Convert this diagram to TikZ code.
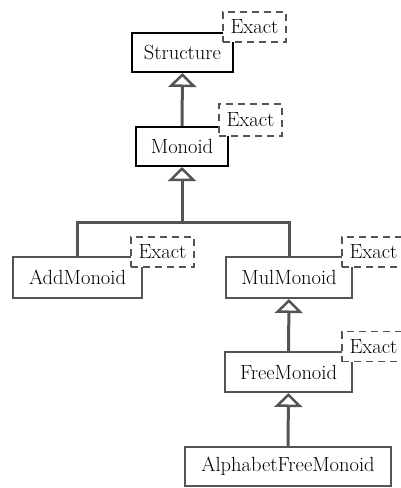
\documentclass[tikz,border=0pt]{standalone}
\usetikzlibrary{arrows.meta}
\begin{document}
\begin{tikzpicture}[x=1pt,y=-1pt,
  every node/.style={font=\fontsize{20.5}{24}\selectfont, inner sep=0pt},
  cls/.style={draw=black, line width=2pt, fill=white},
  clsg/.style={draw=black!67, line width=2pt, fill=white},
  exact/.style={draw=black!67, line width=1.2pt, dash pattern=on 7pt off 5pt, fill=white, minimum width=63pt, minimum height=30pt},
  inh/.style={draw=black!67, line width=3pt, -{Triangle[open, width=28pt, length=14pt, line width=2.5pt]}},
  lnk/.style={draw=black!67, line width=3pt}]
\useasboundingbox (0,0) rectangle (401,488);
% class boxes
\node[cls, minimum width=101pt, minimum height=39pt] (structure) at (182.5,52.5) {Structure};
\node[exact] (e1) at (254.5,27) {Exact};
\node[cls, minimum width=92pt, minimum height=39pt] (monoid) at (182,146.5) {Monoid};
\node[exact, minimum height=32pt] (e2) at (250.5,120) {Exact};
\node[clsg, minimum width=129pt, minimum height=41pt] (add) at (77.5,277.5) {AddMonoid};
\node[exact] (e3) at (162.5,252) {Exact};
\node[clsg, minimum width=126pt, minimum height=41pt] (mul) at (289,277.5) {MulMonoid};
\node[exact] (e4) at (373.5,252) {Exact};
\node[clsg, minimum width=127pt, minimum height=40pt] (free) at (288.5,372) {FreeMonoid};
\node[exact] (e5) at (373.5,346.5) {Exact};
\node[clsg, minimum width=206pt, minimum height=39pt] (alpha) at (288,466.5) {AlphabetFreeMonoid};
% connectors
\coordinate (j) at (182,222);
\draw[inh] (monoid.north) -- (structure.south);
\draw[lnk] (add.north) |- (j);
\draw[lnk] (mul.north) |- (j);
\draw[inh] (j) -- (monoid.south);
\draw[inh] (free.north) -- (mul.south);
\draw[inh] (alpha.north) -- (free.south);
\end{tikzpicture}
\end{document}
